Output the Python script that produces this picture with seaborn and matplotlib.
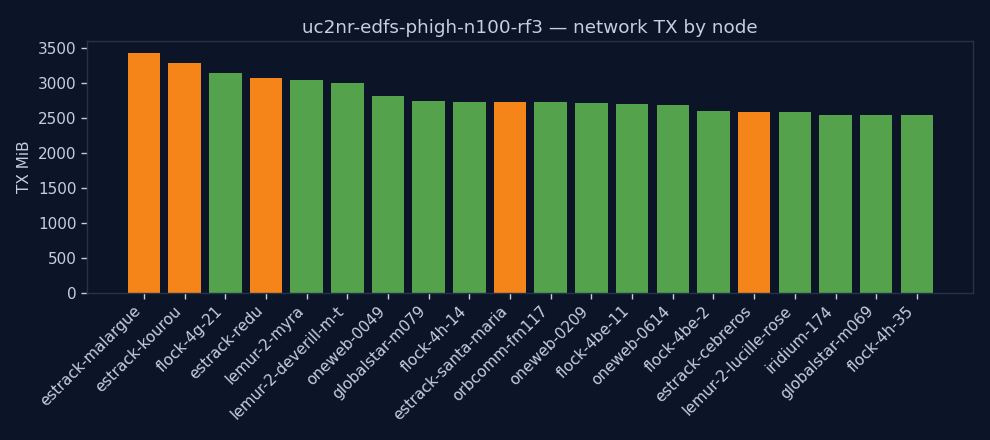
import matplotlib
matplotlib.use("Agg")
import matplotlib.pyplot as plt
import seaborn as sns
import pandas as pd

nodes = ["estrack-malargue", "estrack-kourou", "flock-4g-21", "estrack-redu",
         "lemur-2-myra", "lemur-2-deverill-m-t", "oneweb-0049", "globalstar-m079",
         "flock-4h-14", "estrack-santa-maria", "orbcomm-fm117", "oneweb-0209",
         "flock-4be-11", "oneweb-0614", "flock-4be-2", "estrack-cebreros",
         "lemur-2-lucille-rose", "iridium-174", "globalstar-m069", "flock-4h-35"]
tx_mib = [3430, 3286, 3143, 3071, 3043, 3000, 2814, 2743, 2729, 2729,
          2729, 2714, 2700, 2686, 2600, 2586, 2586, 2543, 2543, 2543]
kind = ["ground" if n.startswith("estrack") else "sat" for n in nodes]

BG = "#0b1527"
FG = "#c5cfdd"
EDGE = "#26324a"

sns.set_theme(style="dark")
plt.rcParams['font.family'] = ['DejaVu Sans']

df = pd.DataFrame({"node": nodes, "tx": tx_mib, "kind": kind})

fig = plt.figure(figsize=(9.9, 4.4), dpi=100, facecolor=BG)
ax = fig.add_axes([87/990, 1-293/440, (973-87)/990, (293-41)/440])
ax.set_facecolor(BG)

sns.barplot(data=df, x="node", y="tx", hue="kind",
            palette={"ground": "#F58518", "sat": "#54A24B"},
            dodge=False, legend=False, width=0.8, saturation=1,
            linewidth=0, edgecolor="none", ax=ax)

ax.set_xlim(-1.4, 20.38)
ax.set_ylim(0, 3600)
ax.set_yticks([0, 500, 1000, 1500, 2000, 2500, 3000, 3500])
ax.set_xlabel("")
ax.set_ylabel("TX MiB", color=FG, fontsize=11)
ax.set_title("uc2nr-edfs-phigh-n100-rf3 \u2014 network TX by node", color=FG, fontsize=13.2, pad=6)
ax.grid(False)
for s in ax.spines.values():
    s.set_color(EDGE)
    s.set_linewidth(1)
ax.tick_params(axis="both", colors=FG, labelsize=11, length=4, width=1, bottom=True, left=True)
plt.setp(ax.get_xticklabels(), rotation=45, ha="right")

fig.savefig("out.png", dpi=100, facecolor=BG)
